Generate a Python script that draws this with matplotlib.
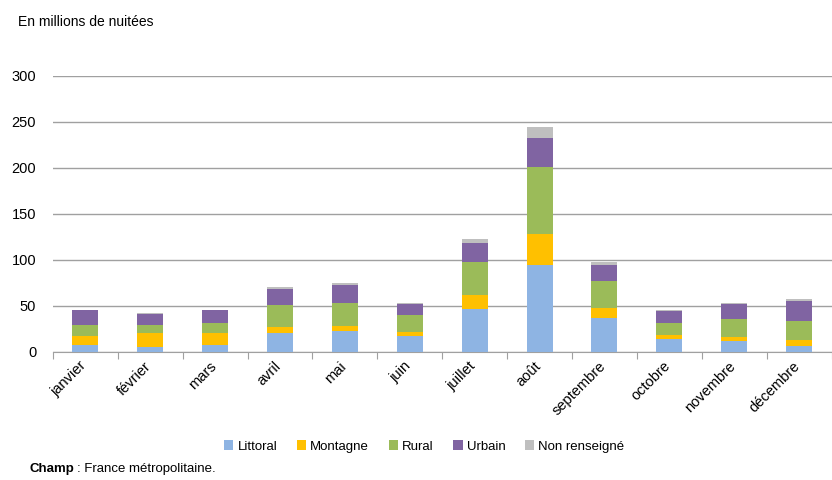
import matplotlib.pyplot as plt
import matplotlib.transforms as mtransforms
import numpy as np

plt.rcParams['font.family'] = ['Liberation Sans', 'DejaVu Sans']

mois = ['janvier', 'février', 'mars', 'avril', 'mai', 'juin', 'juillet',
        'août', 'septembre', 'octobre', 'novembre', 'décembre']
littoral = [8, 5.5, 8, 20.7, 22.8, 17, 47, 95, 36.6, 13.8, 11.6, 6.9]
montagne = [9.5, 15, 12.7, 6.8, 5.8, 5, 15, 33, 11.6, 4.7, 4.7, 5.8]
rural = [12, 8.5, 11.2, 24, 25, 18, 36, 73, 29.3, 13.4, 19.2, 20.6]
urbain = [16, 12, 13.4, 17.4, 19.6, 12.3, 20, 32, 16.7, 13, 16.3, 21.8]
non_renseigne = [0.5, 1.7, 0.5, 2.2, 2.2, 1.1, 5, 12, 4, 0.7, 1.1, 2.2]

series = [
    ('Littoral', littoral, '#8EB4E3'),
    ('Montagne', montagne, '#FFC000'),
    ('Rural', rural, '#9BBB59'),
    ('Urbain', urbain, '#8064A2'),
    ('Non renseigné', non_renseigne, '#BFBFBF'),
]

fig = plt.figure(figsize=(8.32, 4.8), dpi=100)
ax = fig.add_axes([0.0635, 0.2667, 0.936, 0.575])

x = np.arange(len(mois))
bottom = np.zeros(len(mois))
for name, vals, col in series:
    ax.bar(x, vals, 0.4, bottom=bottom, color=col, label=name, zorder=3)
    bottom += np.array(vals)

ax.set_xlim(-0.5, len(mois) - 0.5)
ax.set_ylim(0, 300)
ax.set_yticks(range(0, 301, 50))
ax.yaxis.grid(True, color='#A0A0A0', linewidth=1, zorder=0)
ax.tick_params(axis='y', length=0, labelsize=10.5, pad=12)

# category ticks at the boundaries, labels centred
ax.set_xticks(np.arange(-0.5, len(mois)), minor=False)
ax.set_xticklabels([])
ax.tick_params(axis='x', which='major', length=5, color='#A0A0A0')
ax.set_xticks(x, minor=True)
ax.set_xticklabels(mois, minor=True, rotation=45, ha='right',
                   rotation_mode='anchor', fontsize=10.5)
ax.tick_params(axis='x', which='minor', length=0, pad=5)
shift = mtransforms.ScaledTranslation(-6 / 100, 0, fig.dpi_scale_trans)
for lab in ax.get_xticklabels(minor=True):
    lab.set_transform(lab.get_transform() + shift)

for s in ['top', 'right', 'left']:
    ax.spines[s].set_visible(False)
ax.spines['bottom'].set_color('#A0A0A0')

fig.text(0.022, 0.955, 'En millions de nuitées', fontsize=10, va='center')

fig.legend(loc='center', bbox_to_anchor=(0.51, 0.07), ncol=5, frameon=False,
           fontsize=9.5, handlelength=0.7, handleheight=0.7, handletextpad=0.3,
           columnspacing=1.5)

t1 = fig.text(0.036, 0.022, 'Champ', fontsize=9.5, fontweight='bold', va='center')
ax.annotate(': France métropolitaine.', xy=(1, 0.5), xycoords=t1,
            xytext=(2, 0), textcoords='offset points',
            va='center', fontsize=9.5, annotation_clip=False)

fig.savefig('out.png', dpi=100)
